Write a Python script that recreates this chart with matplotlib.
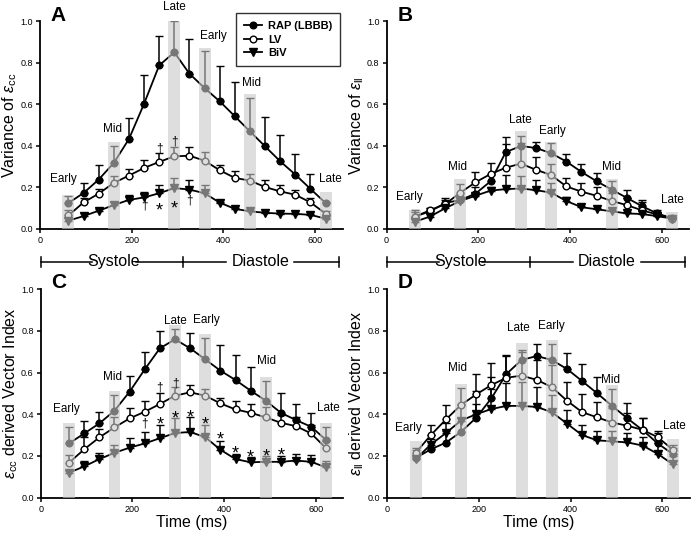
import matplotlib
matplotlib.use("Agg")
import matplotlib.pyplot as plt
import matplotlib.transforms as mtransforms
from matplotlib.lines import Line2D

plt.rcParams['font.family'] = ['Liberation Sans', 'DejaVu Sans']
plt.rcParams['mathtext.fontset'] = 'custom'
plt.rcParams['mathtext.rm'] = 'Liberation Sans'
plt.rcParams['mathtext.it'] = 'Liberation Sans:italic'

# Tiempos (ms)
time = [62, 95, 128, 161, 194, 227, 260, 293, 326, 359, 392, 425, 458, 491, 524, 557, 590, 623]

# Panel A: varianza de e_cc
a_rap = [0.125, 0.173, 0.238, 0.318, 0.433, 0.603, 0.788, 0.851, 0.748, 0.679, 0.615, 0.543, 0.470, 0.398, 0.326, 0.262, 0.193, 0.125]
a_rap_err = [0.16, 0.22, 0.31, 0.40, 0.535, 0.743, 0.928, 1.0, 0.915, 0.855, 0.785, 0.708, 0.63, 0.54, 0.454, 0.363, 0.265, 0.13]
a_lv = [0.065, 0.128, 0.17, 0.222, 0.257, 0.294, 0.323, 0.35, 0.353, 0.329, 0.283, 0.246, 0.233, 0.202, 0.181, 0.165, 0.128, 0.074]
a_lv_err = [0.09, 0.15, 0.195, 0.255, 0.29, 0.33, 0.365, 0.395, 0.395, 0.37, 0.31, 0.28, 0.265, 0.235, 0.21, 0.19, 0.15, 0.085]
a_biv = [0.04, 0.062, 0.088, 0.115, 0.14, 0.152, 0.172, 0.197, 0.19, 0.172, 0.127, 0.097, 0.085, 0.078, 0.074, 0.073, 0.068, 0.05]
a_biv_err = [0.06, 0.075, 0.095, 0.13, 0.165, 0.18, 0.21, 0.245, 0.235, 0.21, 0.13, 0.1, 0.09, 0.08, 0.078, 0.076, 0.07, 0.055]

# Panel B: varianza de e_ll
b_rap = [0.06, 0.085, 0.125, 0.14, 0.17, 0.23, 0.37, 0.40, 0.39, 0.365, 0.325, 0.275, 0.23, 0.19, 0.15, 0.11, 0.075, 0.052]
b_rap_err = [0.09, 0.1, 0.15, 0.16, 0.2, 0.26, 0.445, 0.45, 0.42, 0.415, 0.36, 0.315, 0.27, 0.23, 0.19, 0.14, 0.09, 0.06]
b_lv = [0.06, 0.09, 0.12, 0.175, 0.225, 0.265, 0.295, 0.315, 0.285, 0.26, 0.205, 0.18, 0.16, 0.135, 0.115, 0.09, 0.07, 0.05]
b_lv_err = [0.08, 0.1, 0.14, 0.215, 0.275, 0.32, 0.41, 0.415, 0.345, 0.315, 0.245, 0.22, 0.2, 0.175, 0.15, 0.13, 0.08, 0.06]
b_biv = [0.035, 0.06, 0.1, 0.135, 0.16, 0.185, 0.192, 0.195, 0.187, 0.175, 0.135, 0.105, 0.095, 0.085, 0.075, 0.072, 0.062, 0.05]
b_biv_err = [0.05, 0.07, 0.11, 0.15, 0.17, 0.2, 0.26, 0.255, 0.235, 0.22, 0.155, 0.11, 0.1, 0.09, 0.08, 0.078, 0.068, 0.055]

# Panel C: indice vectorial derivado de e_cc
c_rap = [0.26, 0.308, 0.356, 0.417, 0.508, 0.615, 0.716, 0.759, 0.716, 0.663, 0.609, 0.564, 0.513, 0.465, 0.407, 0.372, 0.34, 0.276]
c_rap_err = [0.34, 0.37, 0.41, 0.49, 0.585, 0.70, 0.80, 0.81, 0.79, 0.765, 0.73, 0.685, 0.625, 0.56, 0.50, 0.45, 0.405, 0.34]
c_lv = [0.168, 0.232, 0.289, 0.337, 0.38, 0.412, 0.449, 0.489, 0.505, 0.489, 0.452, 0.423, 0.407, 0.385, 0.359, 0.343, 0.308, 0.236]
c_lv_err = [0.205, 0.29, 0.33, 0.385, 0.43, 0.465, 0.5, 0.53, 0.54, 0.52, 0.48, 0.465, 0.45, 0.435, 0.395, 0.385, 0.35, 0.27]
c_biv = [0.12, 0.15, 0.185, 0.215, 0.24, 0.26, 0.285, 0.31, 0.315, 0.29, 0.23, 0.185, 0.17, 0.172, 0.172, 0.178, 0.172, 0.145]
c_biv_err = [0.13, 0.175, 0.215, 0.255, 0.285, 0.315, 0.35, 0.38, 0.385, 0.35, 0.27, 0.21, 0.195, 0.2, 0.2, 0.21, 0.205, 0.175]

# Panel D: indice vectorial derivado de e_ll
d_rap = [0.19, 0.232, 0.264, 0.316, 0.383, 0.476, 0.593, 0.66, 0.679, 0.66, 0.617, 0.559, 0.5, 0.439, 0.38, 0.324, 0.26, 0.209]
d_rap_err = [0.23, 0.28, 0.32, 0.38, 0.45, 0.58, 0.68, 0.71, 0.735, 0.735, 0.695, 0.64, 0.58, 0.52, 0.455, 0.38, 0.31, 0.24]
d_lv = [0.215, 0.30, 0.375, 0.445, 0.495, 0.54, 0.575, 0.585, 0.565, 0.53, 0.465, 0.41, 0.385, 0.36, 0.345, 0.325, 0.29, 0.23]
d_lv_err = [0.24, 0.35, 0.445, 0.525, 0.595, 0.645, 0.685, 0.70, 0.66, 0.635, 0.555, 0.495, 0.46, 0.43, 0.405, 0.38, 0.32, 0.255]
d_biv = [0.185, 0.255, 0.31, 0.37, 0.40, 0.425, 0.44, 0.44, 0.435, 0.41, 0.355, 0.3, 0.275, 0.27, 0.265, 0.25, 0.21, 0.16]
d_biv_err = [0.2, 0.3, 0.36, 0.45, 0.51, 0.52, 0.55, 0.555, 0.53, 0.49, 0.42, 0.35, 0.32, 0.32, 0.31, 0.29, 0.26, 0.2]

# Bandas grises (indice del tiempo, altura) y etiquetas de fase
band_names = ["Early", "Mid", "Late", "Early", "Mid", "Late"]
a_band_idx = [0, 3, 7, 9, 12, 17]
a_band_top = [0.165, 0.42, 1.0, 0.87, 0.65, 0.18]
a_lab_pos = [(51, 0.21), (158, 0.455), (294, 1.04), (378, 0.90), (462, 0.674), (633, 0.21)]
b_band_idx = [0, 3, 7, 9, 13, 17]
b_band_top = [0.09, 0.24, 0.47, 0.42, 0.24, 0.08]
b_lab_pos = [(50, 0.125), (155, 0.27), (291, 0.496), (361, 0.445), (491, 0.27), (624, 0.112)]
c_band_idx = [0, 3, 7, 9, 13, 17]
c_band_top = [0.36, 0.51, 0.83, 0.785, 0.58, 0.36]
c_lab_pos = [(57, 0.396), (156, 0.551), (293, 0.82), (362, 0.823), (493, 0.625), (628, 0.40)]
d_band_idx = [0, 3, 7, 9, 13, 17]
d_band_top = [0.27, 0.545, 0.74, 0.755, 0.54, 0.28]
d_lab_pos = [(45, 0.305), (154, 0.593), (285, 0.784), (357, 0.796), (487, 0.535), (627, 0.316)]

# Marcas de significancia (indice, y, simbolo)
a_marks = [(6, 0.39, "†"), (7, 0.42, "†"), (5, 0.115, "†"), (6, 0.12, "*"), (7, 0.13, "*"), (8, 0.135, "†")]
c_marks = [(6, 0.53, "†"), (7, 0.548, "†"), (5, 0.358, "†"), (6, 0.382, "*"), (7, 0.412, "*"),
           (8, 0.417, "*"), (9, 0.384, "*"), (10, 0.31, "*"), (11, 0.244, "*"), (12, 0.224, "*"),
           (13, 0.232, "*"), (14, 0.233, "*")]

fig = plt.figure(figsize=(6.94, 5.35), dpi=100)
w, h = 0.436, 0.388
ax_a = fig.add_axes([0.0576, 0.572, w, h])
ax_b = fig.add_axes([0.557, 0.572, w, h])
ax_c = fig.add_axes([0.0586, 0.0697, w, 0.390])
ax_d = fig.add_axes([0.558, 0.0697, w, 0.390])

panels = [
    (ax_a, "A", r"Variance of $\varepsilon_{\mathregular{cc}}$", a_rap, a_rap_err, a_lv, a_lv_err, a_biv, a_biv_err,
     a_band_idx, a_band_top, a_lab_pos, a_marks),
    (ax_b, "B", r"Variance of $\varepsilon_{\mathregular{ll}}$", b_rap, b_rap_err, b_lv, b_lv_err, b_biv, b_biv_err,
     b_band_idx, b_band_top, b_lab_pos, []),
    (ax_c, "C", r"$\varepsilon_{\mathregular{cc}}$ derived Vector Index", c_rap, c_rap_err, c_lv, c_lv_err, c_biv, c_biv_err,
     c_band_idx, c_band_top, c_lab_pos, c_marks),
    (ax_d, "D", r"$\varepsilon_{\mathregular{ll}}$ derived Vector Index", d_rap, d_rap_err, d_lv, d_lv_err, d_biv, d_biv_err,
     d_band_idx, d_band_top, d_lab_pos, []),
]

styles = [dict(marker="o", mfc="black", ms=4.8), dict(marker="o", mfc="white", ms=4.8), dict(marker="v", mfc="black", ms=5.5)]

for ax, letter, ylabel, rap, rap_e, lv, lv_e, biv, biv_e, bidx, btop, lpos, marks in panels:
    for (vals, tops), st in zip([(rap, rap_e), (lv, lv_e), (biv, biv_e)], styles):
        yerr = [[0] * len(vals), [t - v for t, v in zip(tops, vals)]]
        ax.errorbar(time, vals, yerr=yerr, color="black", lw=1.3, elinewidth=1.1,
                    capsize=3, capthick=1.1, mec="black", mew=1.0, zorder=3, **st)

    # bandas semitransparentes por encima de las series
    for i, top in zip(bidx, btop):
        ax.bar(time[i], top, width=26, color="#c8c8c8", alpha=0.6, zorder=5, lw=0)
    for name, (x, y) in zip(band_names, lpos):
        ax.text(x, y, name, ha="center", va="bottom", fontsize=8.5, zorder=6)
    for i, y, sym in marks:
        if sym == "*":
            ax.text(time[i], y - 0.035, sym, ha="center", va="center", fontsize=13, zorder=6)
        else:
            ax.text(time[i], y, sym, ha="center", va="center", fontsize=8.5, zorder=6)

    ax.set_xlim(0, 660)
    ax.set_ylim(0, 1.0)
    ax.set_xticks([0, 200, 400, 600])
    ax.set_yticks([0, 0.2, 0.4, 0.6, 0.8, 1.0])
    ax.set_yticklabels(["0.0", "0.2", "0.4", "0.6", "0.8", "1.0"])
    ax.tick_params(direction="out", length=3, width=1.1, labelsize=6.5, pad=2)
    for s in ["top", "right"]:
        ax.spines[s].set_visible(False)
    for s in ["left", "bottom"]:
        ax.spines[s].set_linewidth(1.3)
    ax.set_ylabel(ylabel, fontsize=11.5, labelpad=1)
    ax.text(0.035, 1.075, letter, transform=ax.transAxes, fontsize=15, fontweight="bold", va="top", ha="left")

for ax in [ax_c, ax_d]:
    ax.set_xlabel("Time (ms)", fontsize=11.5, labelpad=1)
    # barra de sistole / diastole
    tr = mtransforms.blended_transform_factory(ax.transData, ax.transAxes)
    yb = 1.13
    for x0, x1 in [(0, 113), (207, 311), (311, 405), (553, 650)]:
        ax.plot([x0, x1], [yb, yb], color="black", lw=1.1, transform=tr, clip_on=False)
    for xv in [0, 311, 650]:
        ax.plot([xv, xv], [yb - 0.025, yb + 0.025], color="black", lw=1.1, transform=tr, clip_on=False)
    ax.text(160, yb, "Systole", transform=tr, ha="center", va="center", fontsize=11.5)
    ax.text(479, yb, "Diastole", transform=tr, ha="center", va="center", fontsize=11.5)

handles = [Line2D([0], [0], color="black", lw=1.3, mec="black", mew=1.0, **st) for st in styles]
leg = ax_a.legend(handles, ["RAP (LBBB)", "LV", "BiV"], loc="upper right", bbox_to_anchor=(1.01, 1.065),
                  fontsize=8, frameon=True, fancybox=False, edgecolor="black", handlelength=1.7,
                  borderpad=0.7, labelspacing=0.3, handletextpad=0.5)
leg.get_frame().set_linewidth(1.0)
for t in leg.get_texts():
    t.set_fontweight("bold")

fig.savefig("out.png", dpi=100)
